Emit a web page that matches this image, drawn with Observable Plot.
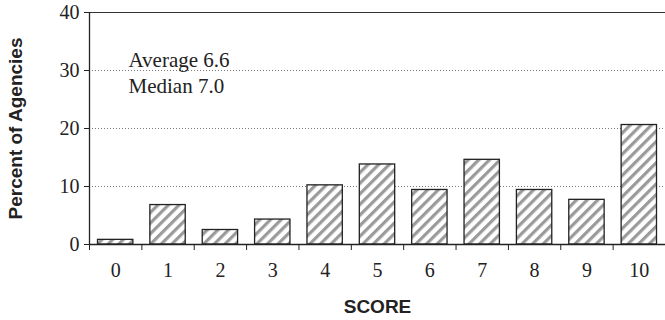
<!DOCTYPE html>
<html>
<head>
<meta charset="utf-8">
<script src="https://cdn.jsdelivr.net/npm/d3@7"></script>
<script src="https://cdn.jsdelivr.net/npm/@observablehq/plot@0.6"></script>
<style>
  html, body { margin: 0; padding: 0; background: #fff; }
  #chart svg { display: block; }
</style>
</head>
<body>
<div id="chart"></div>
<script>
const scores = [0, 1, 2, 3, 4, 5, 6, 7, 8, 9, 10];
const percents = [0.8, 6.8, 2.5, 4.3, 10.2, 13.8, 9.4, 14.6, 9.4, 7.7, 20.6];
const yTicks = [0, 10, 20, 30, 40];
const gridTicks = [10, 20, 30];
const annotation = "Average 6.6\nMedian 7.0";
const xTitle = "SCORE";
const yTitle = "Percent of Agencies";

const data = scores.map((s, i) => ({score: s, pct: percents[i]}));
const boundaries = scores.map(s => s - 0.5).concat([scores[scores.length - 1] + 0.5]);

const serif = "'Liberation Serif', 'Times New Roman', serif";
const sans = "'Liberation Sans', Arial, sans-serif";

const chart = Plot.plot({
  width: 665,
  height: 320,
  marginLeft: 89,
  marginRight: 0,
  marginTop: 12,
  marginBottom: 76,
  style: {background: "#fff", color: "#222"},
  x: {domain: [-0.5, 10.5], axis: null},
  y: {domain: [0, 40], axis: null},
  marks: [
    Plot.gridY(gridTicks, {stroke: "#777", strokeOpacity: 1, strokeDasharray: "1,2"}),
    Plot.rectY(data, {
      x1: d => d.score - 0.5,
      x2: d => d.score + 0.5,
      y1: 0,
      y2: "pct",
      insetLeft: 8.5,
      insetRight: 8.5,
      fill: "url(#hatch)",
      stroke: "#222",
      strokeWidth: 1.3
    }),
    Plot.ruleY([0], {stroke: "#222", strokeWidth: 1.3}),
    Plot.ruleY([40], {stroke: "#333", strokeWidth: 1}),
    Plot.ruleX([-0.5], {stroke: "#222", strokeWidth: 1.3}),
    Plot.axisY(yTicks, {
      tickSize: 5, tickPadding: 5, fontSize: 20, fontFamily: serif,
      stroke: "#222", fill: "#222", label: null
    }),
    Plot.axisX(boundaries, {
      tickSize: 6, tickFormat: () => "", stroke: "#222", label: null
    }),
    Plot.axisX(scores, {
      tickSize: 0, tickPadding: 18, fontSize: 20, fontFamily: serif,
      fill: "#222", label: null
    }),
    Plot.text([annotation], {
      frameAnchor: "top-left", dx: 39, dy: 36, lineAnchor: "top",
      lineHeight: 1.24, textAnchor: "start", fontSize: 21, fontFamily: serif, fill: "#222"
    }),
    Plot.text([xTitle], {
      frameAnchor: "bottom", dy: 68, fontSize: 19, fontWeight: "bold",
      fontFamily: sans, fill: "#222", lineAnchor: "bottom"
    }),
    Plot.text([yTitle], {
      frameAnchor: "left", dx: -68, rotate: -90, fontSize: 19, fontWeight: "bold",
      fontFamily: sans, fill: "#222", lineAnchor: "bottom", textAnchor: "middle"
    })
  ]
});

const ns = "http://www.w3.org/2000/svg";
const defs = document.createElementNS(ns, "defs");
const pattern = document.createElementNS(ns, "pattern");
pattern.setAttribute("id", "hatch");
pattern.setAttribute("patternUnits", "userSpaceOnUse");
pattern.setAttribute("width", "7.5");
pattern.setAttribute("height", "7.5");
pattern.setAttribute("patternTransform", "rotate(45)");
const bg = document.createElementNS(ns, "rect");
bg.setAttribute("width", "7.5"); bg.setAttribute("height", "7.5"); bg.setAttribute("fill", "#fff");
const stripe = document.createElementNS(ns, "rect");
stripe.setAttribute("width", "3.2"); stripe.setAttribute("height", "7.5"); stripe.setAttribute("fill", "#9a9a9a");
pattern.appendChild(bg);
pattern.appendChild(stripe);
defs.appendChild(pattern);
chart.insertBefore(defs, chart.firstChild);

document.getElementById("chart").appendChild(chart);
</script>
</body>
</html>
